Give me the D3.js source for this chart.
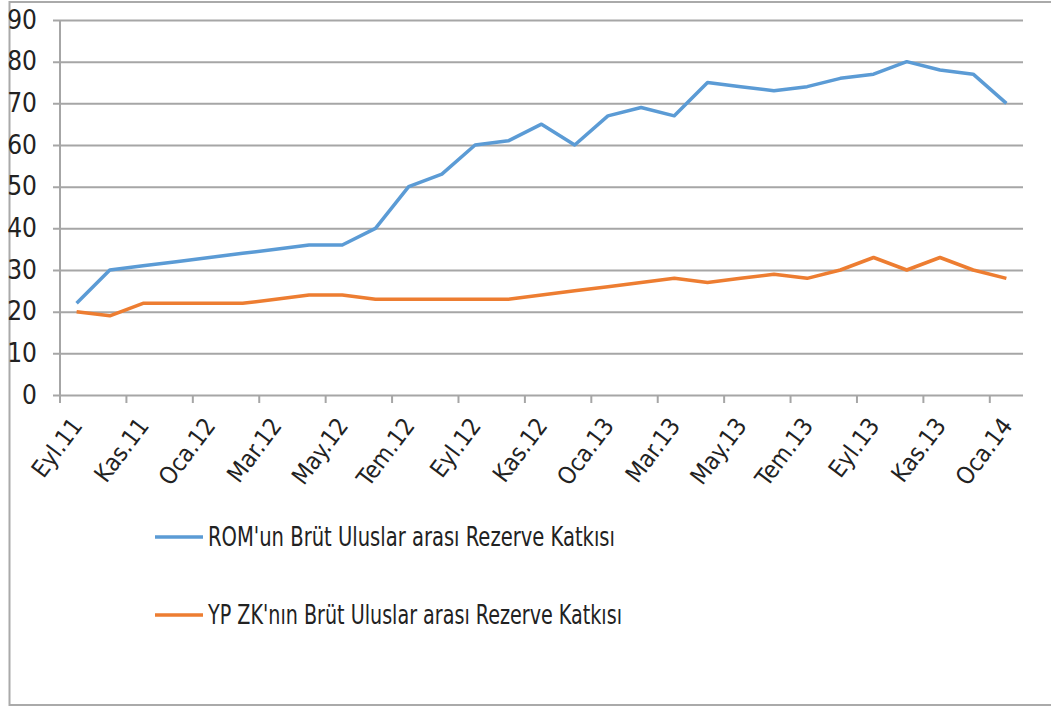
<!DOCTYPE html>
<html>
<head>
<meta charset="utf-8">
<script src="https://cdn.jsdelivr.net/npm/d3@7"></script>
<style>
  body { margin: 0; background: #fff; }
  svg text { font-family: "Liberation Sans Narrow", "DejaVu Sans Condensed", "Arial Narrow", sans-serif; fill: #222; }
</style>
</head>
<body>
<div id="graph"></div>
<script>
const WIDTH = 1051
const HEIGHT = 708
const LEFT = 60
const RIGHT = 1023
const TOP = 20
const BOTTOM = 395

const MONTHS = [
  'Eyl.11', 'Eki.11', 'Kas.11', 'Ara.11', 'Oca.12', 'Şub.12', 'Mar.12', 'Nis.12',
  'May.12', 'Haz.12', 'Tem.12', 'Ağu.12', 'Eyl.12', 'Eki.12', 'Kas.12', 'Ara.12',
  'Oca.13', 'Şub.13', 'Mar.13', 'Nis.13', 'May.13', 'Haz.13', 'Tem.13', 'Ağu.13',
  'Eyl.13', 'Eki.13', 'Kas.13', 'Ara.13', 'Oca.14'
]
const ROM = [22, 30, 31, 32, 33, 34, 35, 36, 36, 40, 50, 53, 60, 61, 65, 60, 67, 69, 67, 75, 74, 73, 74, 76, 77, 80, 78, 77, 70]
const YPZK = [20, 19, 22, 22, 22, 22, 23, 24, 24, 23, 23, 23, 23, 23, 24, 25, 26, 27, 28, 27, 28, 29, 28, 30, 33, 30, 33, 30, 28]
const SERIES_NAMES = ["ROM'un Brüt Uluslar arası Rezerve Katkısı", "YP ZK'nın Brüt Uluslar arası Rezerve Katkısı"]
const COLORS = ['#5b9bd5', '#ed7d31']
const Y_TICKS = [0, 10, 20, 30, 40, 50, 60, 70, 80, 90]

const main = _ => {
    const svg = d3.select('#graph')
        .append('svg')
        .attr('width', WIDTH)
        .attr('height', HEIGHT)

    // outer frame (left, top, bottom only)
    svg.append('path')
        .attr('d', `M${WIDTH},2 H9.5 V705 H${WIDTH}`)
        .attr('fill', 'none')
        .attr('stroke', '#aaa')
        .attr('stroke-width', 2)

    const x = d3.scaleBand().domain(MONTHS).range([LEFT, RIGHT])
    const y = d3.scaleLinear().domain([0, 90]).range([BOTTOM, TOP])
    const cx = m => x(m) + x.bandwidth() / 2

    // gridlines + y labels
    const yAxis = d3.axisLeft(y)
        .tickValues(Y_TICKS)
        .tickSize(-(RIGHT - LEFT) - 7)
        .tickPadding(16)
        .tickFormat(d3.format('d'))

    const gy = svg.append('g')
        .attr('transform', `translate(${LEFT - 7},0)`)
        .call(yAxis)
    gy.select('.domain').remove()
    gy.selectAll('.tick line')
        .attr('stroke', '#a6a6a6')
        .attr('stroke-width', 2)
    gy.selectAll('.tick text')
        .attr('font-size', 26)
        .attr('fill', '#222')

    // vertical axis line
    svg.append('line')
        .attr('x1', LEFT).attr('x2', LEFT)
        .attr('y1', TOP).attr('y2', BOTTOM + 8)
        .attr('stroke', '#a6a6a6')
        .attr('stroke-width', 2)

    // x tick marks at every other band boundary
    const boundaries = MONTHS.filter((m, i) => i % 2 === 0)
    svg.append('g').selectAll('line')
        .data(boundaries)
        .enter()
        .append('line')
        .attr('x1', m => x(m)).attr('x2', m => x(m))
        .attr('y1', BOTTOM).attr('y2', BOTTOM + 8)
        .attr('stroke', '#a6a6a6')
        .attr('stroke-width', 2)

    // x labels
    svg.append('g').selectAll('text')
        .data(boundaries)
        .enter()
        .append('text')
        .attr('transform', m => `translate(${cx(m) + 7},${BOTTOM + 31}) rotate(-53)`)
        .attr('text-anchor', 'end')
        .attr('font-size', 24)
        .text(m => m)

    // lines
    const line = d3.line()
        .x((d, i) => cx(MONTHS[i]))
        .y(d => y(d))

    ;[ROM, YPZK].forEach((data, k) => {
        svg.append('path')
            .datum(data)
            .attr('d', line)
            .attr('fill', 'none')
            .attr('stroke', COLORS[k])
            .attr('stroke-width', 3.5)
            .attr('stroke-linejoin', 'round')
    })

    // legend
    const legend = svg.append('g').selectAll('g')
        .data(SERIES_NAMES)
        .enter()
        .append('g')
        .attr('transform', (d, i) => `translate(155,${537 + i * 78})`)

    legend.append('line')
        .attr('x1', 0).attr('x2', 48)
        .attr('stroke', (d, i) => COLORS[i])
        .attr('stroke-width', 3.5)

    legend.append('text')
        .attr('x', 53)
        .attr('y', 9)
        .attr('font-size', 26)
        .attr('textLength', (d, i) => i === 0 ? 407 : 414)
        .attr('lengthAdjust', 'spacingAndGlyphs')
        .text(d => d)
}

document.addEventListener('DOMContentLoaded', main)
</script>
</body>
</html>
